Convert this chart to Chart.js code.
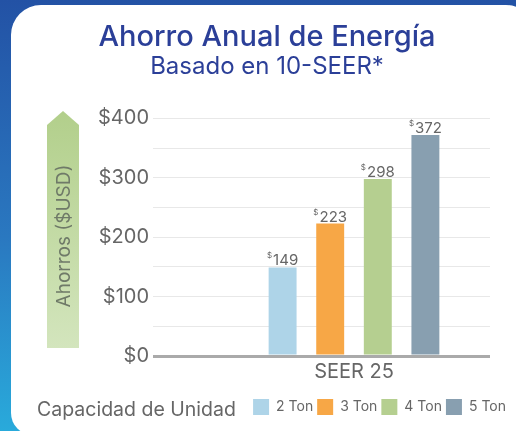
<!DOCTYPE html>
<html>
<head>
<meta charset="utf-8">
<script src="https://cdn.jsdelivr.net/npm/chart.js@4"></script>
<style>
  html, body { margin: 0; padding: 0; }
  body {
    width: 516px; height: 431px; overflow: hidden; position: relative;
    background: linear-gradient(180deg, #2352a5 0%, #2a78c0 55%, #29aadb 100%);
    font-family: Inter, sans-serif;
  }
  .card {
    position: absolute; left: 11px; top: 5px; width: 525px; height: 430px;
    background: #fff; border-radius: 30px 30px 30px 22px;
  }
  .wrap { position: absolute; left: 0; top: 0; width: 516px; height: 431px; }
  .legend_title {
    position: absolute; left: 37px; top: 397px;
    font: 19.5px Inter, sans-serif; color: #666;
  }
</style>
</head>
<body>
<div class="card"></div>
<div class="wrap"><canvas id="savings_chart"></canvas></div>
<div class="legend_title">Capacidad de Unidad</div>
<script>
const categories = ["SEER 25"];
const units = ["2 Ton", "3 Ton", "4 Ton", "5 Ton"];
const savings = [149, 223, 298, 372];
const colors = ["#aed4e8", "#f7a746", "#b5cf90", "#889fb0"];

Chart.defaults.font.family = "Inter";

// flecha verde con el titulo del eje
const arrowPlugin = {
  id: "arrow",
  beforeDraw(chart) {
    const { ctx, chartArea } = chart;
    const x0 = 47, x1 = 79, tip = 111, shoulder = 125, bottom = chartArea.bottom - 8;
    const grad = ctx.createLinearGradient(0, tip, 0, bottom);
    grad.addColorStop(0, "#b2cf8b");
    grad.addColorStop(1, "#d3e5bd");
    ctx.save();
    ctx.fillStyle = grad;
    ctx.beginPath();
    ctx.moveTo((x0 + x1) / 2, tip);
    ctx.lineTo(x1, shoulder);
    ctx.lineTo(x1, bottom);
    ctx.lineTo(x0, bottom);
    ctx.lineTo(x0, shoulder);
    ctx.closePath();
    ctx.fill();
    ctx.translate((x0 + x1) / 2, 236);
    ctx.rotate(-Math.PI / 2);
    ctx.fillStyle = "#6f7a68";
    ctx.font = "19px Inter";
    ctx.textAlign = "center";
    ctx.textBaseline = "middle";
    ctx.fillText("Ahorros ($USD)", 0, 1);
    ctx.restore();
  }
};

// etiquetas $ sobre cada barra
const valuePlugin = {
  id: "values",
  afterDatasetsDraw(chart) {
    const { ctx } = chart;
    ctx.save();
    ctx.fillStyle = "#666";
    ctx.textBaseline = "alphabetic";
    chart.data.datasets.forEach((ds, i) => {
      const bar = chart.getDatasetMeta(i).data[0];
      const txt = String(ds.data[0]);
      ctx.font = "15px Inter";
      const w = ctx.measureText(txt).width;
      ctx.font = "8px Inter";
      const sw = ctx.measureText("$").width + 1;
      const left = bar.x - (w + sw) / 2;
      ctx.textAlign = "left";
      ctx.fillText("$", left, bar.y - 9);
      ctx.font = "15px Inter";
      ctx.fillText(txt, left + sw, bar.y - 2);
    });
    ctx.restore();
  }
};

new Chart(document.getElementById("savings_chart"), {
  type: "bar",
  data: {
    labels: categories,
    datasets: units.map((u, i) => ({
      label: u,
      data: [savings[i]],
      backgroundColor: colors[i]
    }))
  },
  options: {
    responsive: true,
    maintainAspectRatio: false,
    animation: false,
    categoryPercentage: 0.7,
    barPercentage: 0.587,
    layout: { padding: { left: 24, right: 6, top: 8, bottom: 6 } },
    scales: {
      x: {
        afterFit(s) { s.height = 39; },
        grid: { display: false },
        border: { display: false },
        ticks: { color: "#666", font: { size: 20 }, padding: -4 }
      },
      y: {
        min: 0,
        max: 400,
        afterFit(s) { s.width = 194; },
        ticks: {
          stepSize: 50,
          color: "#666",
          font: { size: 20 },
          padding: 4,
          callback: v => (v % 100 === 0 ? "$" + v : "")
        },
        grid: {
          tickLength: 65,
          color: c => (c.tick.value === 0 ? "#aaa" : "#e8e8e8"),
          lineWidth: c => (c.tick.value === 0 ? 3 : 1)
        },
        border: { display: false }
      },
      // eje vacio a la derecha solo para dejar espacio a la leyenda
      yRight: {
        position: "right",
        grid: { display: false },
        border: { display: false },
        ticks: { display: false },
        afterFit(s) { s.width = 20; }
      }
    },
    plugins: {
      title: {
        display: true,
        text: "Ahorro Anual de Energía",
        color: "#2b3f98",
        font: { size: 29, weight: 500, lineHeight: 1 },
        padding: { top: 15, bottom: 2 }
      },
      subtitle: {
        display: true,
        text: "Basado en 10-SEER*",
        color: "#2b3f98",
        font: { size: 24, weight: "normal", lineHeight: 1.1 },
        padding: { top: 0, bottom: 38 }
      },
      legend: {
        position: "bottom",
        align: "end",
        labels: {
          boxWidth: 16,
          boxHeight: 16,
          color: "#666",
          font: { size: 14 },
          padding: 4
        }
      },
      tooltip: { enabled: false }
    }
  },
  plugins: [arrowPlugin, valuePlugin]
});
</script>
</body>
</html>
